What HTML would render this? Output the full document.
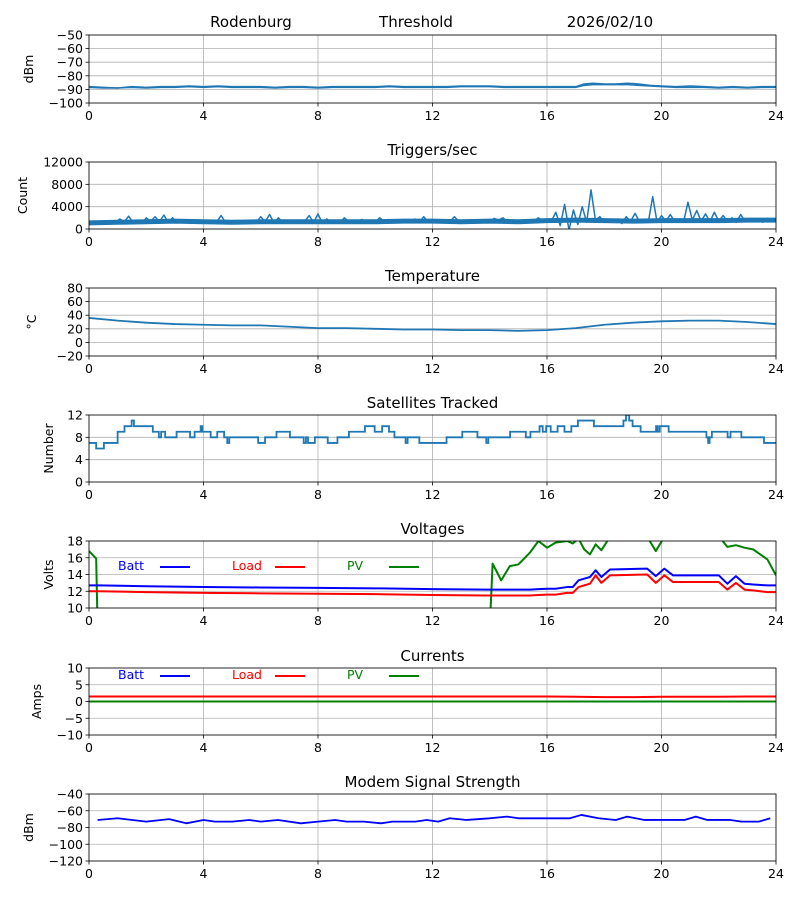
<!DOCTYPE html>
<html><head><meta charset="utf-8">
<style>
html,body{margin:0;padding:0;background:#fff;}
svg{display:block;font-family:"DejaVu Sans","Liberation Sans",sans-serif;}
</style></head>
<body>
<svg id="fig" width="800" height="900" viewBox="0 0 800 900" xmlns="http://www.w3.org/2000/svg"></svg>
<script>
// ---- data ----
const xTicks = [0,4,8,12,16,20,24];
const sigTimes = [0,0.5,1,1.5,2,2.5,3,3.5,4,4.5,5,5.5,6,6.5,7,7.5,8,8.5,9,9.5,10,10.5,11,11.5,12,12.5,13,13.5,14,14.5,15,15.5,16,16.5,17,17.3,17.6,18,18.4,18.8,19.2,19.6,20,20.5,21,21.5,22,22.5,23,23.5,24];
const sigValues = [-88,-88.5,-89,-88,-88.5,-88,-88,-87.5,-88,-87.5,-88,-88,-88,-88.5,-88,-88,-88.5,-88,-88,-88,-88,-87.5,-88,-88,-88,-88,-87.5,-87.5,-87.5,-88,-88,-88,-88,-88,-88,-86,-85.5,-86,-86,-85.5,-86,-87,-87.5,-88,-87.5,-88,-88.5,-88,-88.5,-88,-88];
const sigLow = [-88.5,-89,-89,-88.5,-89,-88.5,-88.5,-88,-88.5,-88,-88.5,-88.5,-88.5,-89,-88.5,-88.5,-89,-88.5,-88.5,-88.5,-88.5,-88,-88.5,-88.5,-88.5,-88.5,-88,-88,-88,-88.5,-88.5,-88.5,-88.5,-88.5,-88.5,-87,-86.5,-86.5,-86.5,-86.5,-87,-87.5,-88,-88.5,-88.5,-88.5,-89,-88.5,-89,-88.5,-88.5];
const trigBaseTimes = [0,1,2,3,4,5,6,7,8,9,10,11,12,13,14,15,16,17,18,19,20,21,22,23,24];
const trigBase = [1100,1200,1300,1400,1300,1200,1300,1300,1300,1300,1300,1400,1400,1300,1400,1300,1500,1600,1500,1400,1500,1500,1500,1600,1600];
const trigValues = [1200,1300,1100,1250,1200,1500,1200,1800,1300,2300,1200,1600,1000,2000,1400,2200,1300,2500,1200,2000,1100,1500,1300,1000,1400,1200,1300,1100,1200,1300,2400,1200,1000,1300,1200,1500,1300,1200,1200,2200,1300,2600,1100,2000,1200,1400,1300,1200,1500,1400,2400,1200,2700,1000,1800,1200,1300,1200,2000,1300,1500,1400,1700,1300,1600,1200,2000,1400,1700,1200,1500,1300,1400,1200,1800,1200,2200,1300,1500,1300,1200,1200,1400,2200,1300,1600,1300,1200,1500,1300,1400,1300,1900,1600,2000,1300,1400,1200,1600,1300,1200,1300,2000,1500,1700,1400,3000,600,4400,-200,3400,800,4000,1200,7000,1600,2200,1300,1500,1200,1800,1000,2200,1400,2800,1300,1600,1200,5800,1200,2400,1400,2600,1300,1700,1200,4800,1600,3300,1400,2700,1300,3000,1400,2400,1300,2000,1200,2600,1300,1800,1500,1700,1200,1900,1300,1600];
const tempTimes = [0,1,2,3,4,5,6,7,8,9,10,11,12,13,14,15,16,17,18,19,20,21,22,23,24];
const tempValues = [36,32,29,27,26,25,25,23,21,21,20,19,19,18,18,17,18,21,26,29,31,32,32,30,27];
const satTimes = [0,0.25,0.52,1.0,1.24,1.49,1.57,2.23,2.44,2.52,2.66,3.06,3.53,3.69,3.9,3.96,4.25,4.48,4.72,4.83,4.9,5.91,6.15,6.55,7.02,7.5,7.58,7.65,7.89,8.34,8.68,9.08,9.64,9.98,10.24,10.48,10.67,11.06,11.13,11.54,12.49,13.04,13.57,13.88,13.95,14.71,15.26,15.42,15.74,15.85,15.97,16.13,16.37,16.61,16.85,17.08,17.64,18.67,18.76,18.87,18.99,19.27,19.81,19.87,19.94,20.25,21.57,21.63,21.68,21.76,22.31,22.41,22.79,23.58,24];
const satValues = [7,6,7,9,10,11,10,9,8,9,8,9,8,9,10,9,8,9,8,7,8,7,8,9,8,7,8,7,8,7,8,9,10,9,10,9,8,7,8,7,8,9,8,7,8,9,8,9,10,9,10,9,10,9,10,11,10,11,12,11,10,9,10,9,10,9,8,7,8,9,8,9,8,7,7];
const voltTimes = [0,0.25,0.35,2,4,6,8,10,12,13.9,14.1,14.4,14.7,15.0,15.4,15.7,16.0,16.3,16.7,16.9,17.1,17.3,17.5,17.7,17.9,18.2,19.5,19.8,20.1,20.4,22.0,22.3,22.6,22.9,23.2,23.7,24];
const battValues = [12.7,12.7,12.7,12.6,12.5,12.45,12.4,12.35,12.25,12.2,12.2,12.2,12.2,12.2,12.2,12.25,12.3,12.3,12.5,12.5,13.3,13.5,13.7,14.5,13.7,14.6,14.7,13.8,14.7,13.9,13.9,12.9,13.8,12.9,12.8,12.7,12.7];
const loadValues = [12.0,12.0,12.0,11.9,11.8,11.75,11.7,11.65,11.55,11.5,11.5,11.5,11.5,11.5,11.5,11.55,11.6,11.6,11.8,11.8,12.5,12.7,12.9,13.9,13.0,13.9,14.0,13.0,13.9,13.1,13.1,12.2,13.0,12.2,12.1,11.9,11.9];
const pvValues = [16.8,15.9,0,0,0,0,0,0,0,0,15.3,13.3,15.0,15.2,16.6,18.0,17.2,17.8,18.0,17.7,18.3,17.0,16.4,17.6,16.9,18.5,18.5,16.8,18.5,18.6,18.6,17.3,17.5,17.2,17.0,15.8,13.9];
const curTimes = [0,2,4,6,8,10,12,14,16,17,18,19,20,21,22,23,24];
const battCur = [0,0,0,0,0,0,0,0,0,0,0,0,0,0,0,0,0];
const loadCur = [1.5,1.5,1.5,1.5,1.5,1.5,1.5,1.5,1.5,1.4,1.3,1.3,1.4,1.4,1.4,1.5,1.5];
const pvCur = [0,0,0,0,0,0,0,0,0,0,0,0,0,0,0,0,0];
const modemTimes = [0.3,1,2,2.8,3.4,4,4.4,5,5.6,6,6.6,7.4,8,8.6,9,9.6,10.2,10.6,11.4,11.8,12.2,12.6,13.2,14,14.6,15,16,16.8,17.2,17.8,18.4,18.8,19.4,20,20.8,21.2,21.6,22.4,22.8,23.4,23.8];
const modemValues = [-71,-69,-73,-70,-75,-71,-73,-73,-71,-73,-71,-75,-73,-71,-73,-73,-75,-73,-73,-71,-73,-69,-71,-69,-67,-69,-69,-69,-65,-69,-71,-67,-71,-71,-71,-67,-71,-71,-73,-73,-69];

// ---- drawing ----
const NS = "http://www.w3.org/2000/svg";
const svg = document.getElementById('fig');
const X0 = 89, X1 = 776;
function xs(t){ return X0 + (t/24)*(X1-X0); }
function mk(tag, attrs, parent){
  const e = document.createElementNS(NS, tag);
  for (const k in attrs) e.setAttribute(k, attrs[k]);
  (parent||svg).appendChild(e);
  return e;
}
function txt(s, attrs, parent){ const e = mk('text', attrs, parent); e.textContent = s; return e; }

function makeAxes(name, top, bot, ymin, ymax, yTicks, ylabel, ylx, title){
  const g = mk('g', {});
  
  
  const ys = v => bot - (v-ymin)/(ymax-ymin)*(bot-top);
  const clipId = 'clip-' + name;
  const cp = mk('clipPath', {id: clipId}, g);
  mk('rect', {x: X0, y: top, width: X1-X0, height: bot-top}, cp);
  for (const t of xTicks) mk('line', {x1: xs(t), x2: xs(t), y1: top, y2: bot, stroke: '#b0b0b0', 'stroke-width': 0.8}, g);
  for (const v of yTicks) mk('line', {x1: X0, x2: X1, y1: ys(v), y2: ys(v), stroke: '#b0b0b0', 'stroke-width': 0.8}, g);
  for (const t of xTicks) {
    mk('line', {x1: xs(t), x2: xs(t), y1: bot, y2: bot+3.5, stroke: '#000', 'stroke-width': 0.8}, g);
    const l = txt(String(t), {x: xs(t), y: bot+17, 'text-anchor': 'middle', 'font-size': 12.5}, g);
    
    
  }
  for (const v of yTicks) {
    mk('line', {x1: X0-3.5, x2: X0, y1: ys(v), y2: ys(v), stroke: '#000', 'stroke-width': 0.8}, g);
    const l = txt(v < 0 ? '\u2212' + Math.abs(v) : String(v), {x: X0-6, y: ys(v)+4.5, 'text-anchor': 'end', 'font-size': 12.5}, g);
    
    
  }
  const yl = txt(ylabel, {x: ylx, y: (top+bot)/2, 'text-anchor': 'middle', 'font-size': 12.5, transform: `rotate(-90 ${ylx} ${(top+bot)/2})`}, g);
  
  
  if (title) {
    const tt = txt(title, {x: (X0+X1)/2, y: top-7, 'text-anchor': 'middle', 'font-size': 15}, g);
    
    
  }
  const plot = mk('g', {'clip-path': `url(#${clipId})`}, g);
  return {g, plot, ys, top, bot};
}
function finish(ax){
  mk('rect', {x: X0, y: ax.top, width: X1-X0, height: ax.bot-ax.top, fill: 'none', stroke: '#000', 'stroke-width': 0.8}, ax.g);
}
function line(ax, times, vals, color, w, name){
  const d = times.map((t,i)=>(i?'L':'M')+xs(t).toFixed(2)+' '+ax.ys(vals[i]).toFixed(2)).join(' ');
  const p = mk('path', {d, fill: 'none', stroke: color, 'stroke-width': w, 'stroke-linejoin': 'round'}, ax.plot);
  
  
  return p;
}
function step(ax, times, vals, color, w, name){
  let d = '';
  for (let i=0;i<vals.length;i++){
    const x0 = xs(times[i]), x1 = xs(times[i+1] !== undefined ? times[i+1] : 24), y = ax.ys(vals[i]);
    d += (i ? 'L' : 'M') + x0.toFixed(2) + ' ' + y.toFixed(2) + ' L' + x1.toFixed(2) + ' ' + y.toFixed(2) + ' ';
  }
  const p = mk('path', {d, fill: 'none', stroke: color, 'stroke-width': w}, ax.plot);
  
  
}
function legend(ax, y){
  const items = [['Batt','#0000ff',118,160],['Load','#ff0000',232,275],['PV','#008000',347,389]];
  for (const it of items){
    const t = txt(it[0], {x: it[2], y: y+5, fill: it[1], 'font-size': 12.5}, ax.g);
    
    
    mk('line', {x1: it[3], x2: it[3]+30, y1: y+2, y2: y+2, stroke: it[1], 'stroke-width': 2}, ax.g);
  }
}

const h1 = txt('Rodenburg', {x: 251, y: 27, 'text-anchor': 'middle', 'font-size': 15});


const h2 = txt('Threshold', {x: 416, y: 27, 'text-anchor': 'middle', 'font-size': 15});


const h3 = txt('2026/02/10', {x: 610, y: 27, 'text-anchor': 'middle', 'font-size': 15});



const a1 = makeAxes('signal-chart', 35, 103, -100, -50, [-100,-90,-80,-70,-60,-50], 'dBm', 33, null);
line(a1, sigTimes, sigLow, '#1f77b4', 1.5, 'signal-low-line');
line(a1, sigTimes, sigValues, '#1f77b4', 1.5, 'signal-line');
finish(a1);

const a2 = makeAxes('triggers-chart', 162, 229, 0, 12000, [0,4000,8000,12000], 'Count', 27, 'Triggers/sec');
line(a2, trigBaseTimes, trigBase, '#1f77b4', 5, 'triggers-band');
const trigTimes = trigValues.map((v,i)=>i*24/(trigValues.length-1));
line(a2, trigTimes, trigValues, '#1f77b4', 1.5, 'triggers-line');
finish(a2);

const a3 = makeAxes('temperature-chart', 288, 356, -20, 80, [-20,0,20,40,60,80], '\u00B0C', 36, 'Temperature');
line(a3, tempTimes, tempValues, '#1f77b4', 1.8, 'temperature-line');
finish(a3);

const a4 = makeAxes('satellites-chart', 415, 482, 0, 12, [0,4,8,12], 'Number', 53, 'Satellites Tracked');
step(a4, satTimes, satValues, '#1f77b4', 1.8, 'satellites-line');
finish(a4);

const a5 = makeAxes('voltages-chart', 541, 608, 10, 18, [10,12,14,16,18], 'Volts', 53, 'Voltages');
line(a5, voltTimes, pvValues, '#008000', 2, 'pv-voltage-line');
line(a5, voltTimes, loadValues, '#ff0000', 2, 'load-voltage-line');
line(a5, voltTimes, battValues, '#0000ff', 2, 'batt-voltage-line');
legend(a5, 565);
finish(a5);

const a6 = makeAxes('currents-chart', 668, 735, -10, 10, [-10,-5,0,5,10], 'Amps', 41, 'Currents');
line(a6, curTimes, battCur, '#0000ff', 2, 'batt-current-line');
line(a6, curTimes, loadCur, '#ff0000', 2, 'load-current-line');
line(a6, curTimes, pvCur, '#008000', 2, 'pv-current-line');
legend(a6, 674);
finish(a6);

const a7 = makeAxes('modem-chart', 794, 861, -120, -40, [-120,-100,-80,-60,-40], 'dBm', 33, 'Modem Signal Strength');
line(a7, modemTimes, modemValues, '#0000ff', 1.8, 'modem-line');
finish(a7);
</script>
</body></html>
